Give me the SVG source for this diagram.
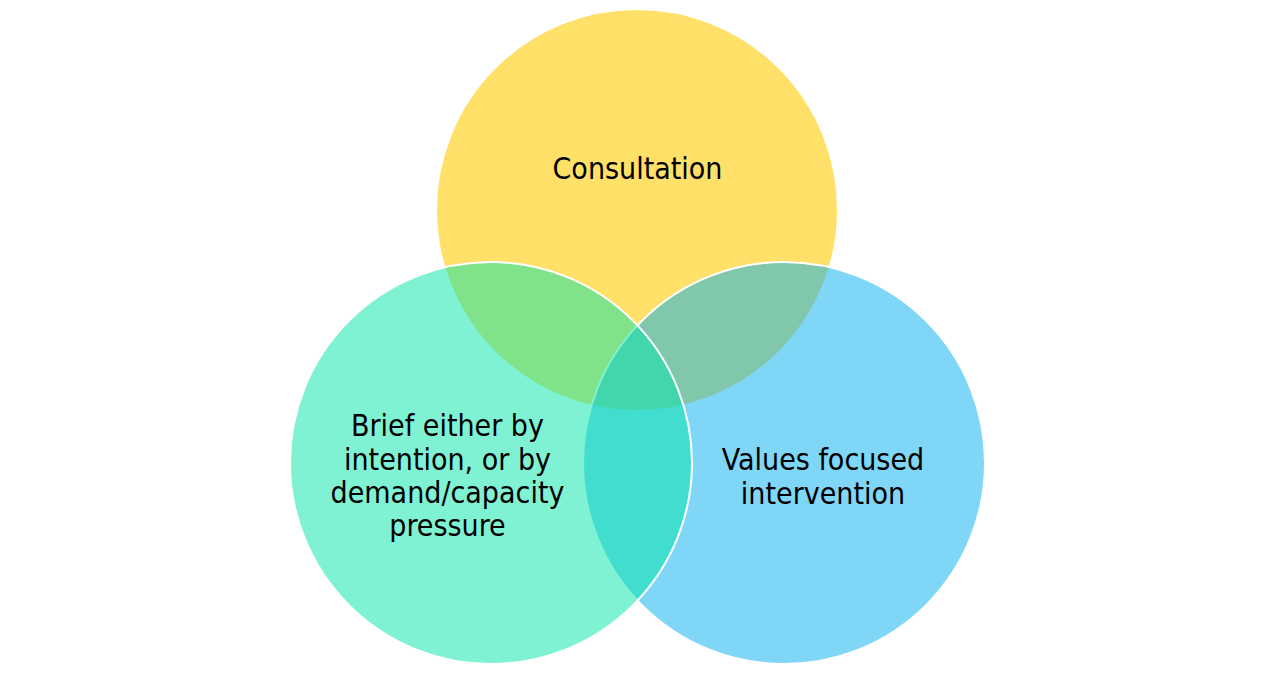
<svg xmlns="http://www.w3.org/2000/svg" width="1275" height="675" viewBox="0 0 1275 675">
  <style>
    .c { stroke: #ffffff; stroke-width: 2; }
    .t { font-family: "DejaVu Sans Condensed", "DejaVu Sans", sans-serif; font-stretch: condensed; font-size: 30px; fill: #000000; text-anchor: middle; }
  </style>
  <rect width="1275" height="675" fill="#ffffff"/>
  <g id="consultation">
    <circle class="c" cx="637" cy="210" r="201" fill="#FFE068"/>
    <text class="t" x="637.5" y="179">Consultation</text>
  </g>
  <g id="values-focused-intervention">
    <circle class="c" cx="784" cy="463" r="201" fill="#01ADEF" fill-opacity="0.5"/>
  </g>
  <g id="brief">
    <circle class="c" cx="491" cy="463" r="201" fill="#01E5A9" fill-opacity="0.5"/>
  </g>
  <g id="labels">
    <text class="t" x="823" y="470">Values focused</text>
    <text class="t" x="823" y="503.5">intervention</text>
    <text class="t" x="447.5" y="436">Brief either by</text>
    <text class="t" x="447.5" y="469.5">intention, or by</text>
    <text class="t" x="447.5" y="503">demand/capacity</text>
    <text class="t" x="447.5" y="536">pressure</text>
  </g>
</svg>
